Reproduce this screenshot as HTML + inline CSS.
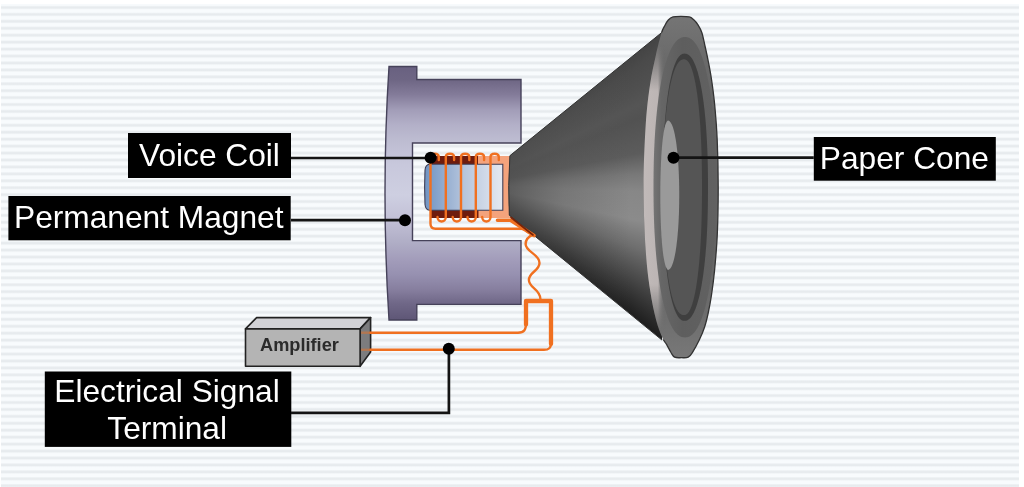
<!DOCTYPE html>
<html><head><meta charset="utf-8">
<style>
html,body{margin:0;padding:0;background:#fff;width:1024px;height:487px;overflow:hidden}
.bg{position:absolute;left:1px;top:4px;width:1018px;height:483px;
background:repeating-linear-gradient(to bottom,#f8fbfd 0px,#f8fbfd 1.3px,#e7ebee 2.8px,#e7ebee 4.1px,#f8fbfd 5.6px,#f8fbfd 6.93px);
background-position:0 0.1px}
svg{position:absolute;left:0;top:0}
text{font-family:"Liberation Sans",sans-serif}
#wrap{position:absolute;left:0;top:0;width:1024px;height:487px;filter:blur(0.6px)}
</style></head><body><div id="wrap">
<div class="bg"></div>
<svg width="1024" height="487" viewBox="0 0 1024 487">
<defs>
<linearGradient id="mag" x1="0" y1="66" x2="0" y2="320" gradientUnits="userSpaceOnUse">
<stop offset="0.000" stop-color="#686080"/>
<stop offset="0.055" stop-color="#6e6684"/>
<stop offset="0.114" stop-color="#847c9a"/>
<stop offset="0.173" stop-color="#a29db8"/>
<stop offset="0.232" stop-color="#b3b0c8"/>
<stop offset="0.291" stop-color="#bdbcd1"/>
<stop offset="0.390" stop-color="#c8c8dc"/>
<stop offset="0.508" stop-color="#cecfe1"/>
<stop offset="0.606" stop-color="#c2c0d6"/>
<stop offset="0.693" stop-color="#b0aec6"/>
<stop offset="0.764" stop-color="#a29cba"/>
<stop offset="0.823" stop-color="#9690b0"/>
<stop offset="0.882" stop-color="#867e9e"/>
<stop offset="0.933" stop-color="#706888"/>
<stop offset="1.000" stop-color="#5e5676"/>
</linearGradient>
<linearGradient id="cone" x1="0" y1="30" x2="0" y2="345" gradientUnits="userSpaceOnUse">
<stop offset="0.000" stop-color="#484848"/>
<stop offset="0.222" stop-color="#4c4c4c"/>
<stop offset="0.381" stop-color="#575757"/>
<stop offset="0.413" stop-color="#646464"/>
<stop offset="0.451" stop-color="#7a7a7a"/>
<stop offset="0.495" stop-color="#898989"/>
<stop offset="0.571" stop-color="#8e8e8e"/>
<stop offset="0.610" stop-color="#7c7c7c"/>
<stop offset="0.683" stop-color="#626262"/>
<stop offset="0.746" stop-color="#4a4a4a"/>
<stop offset="0.857" stop-color="#2a2a2a"/>
<stop offset="1.000" stop-color="#181818"/>
</linearGradient>
<linearGradient id="apex" x1="508" y1="0" x2="630" y2="0" gradientUnits="userSpaceOnUse">
<stop offset="0" stop-color="#505050" stop-opacity="0.8"/>
<stop offset="0.45" stop-color="#555" stop-opacity="0.35"/>
<stop offset="1" stop-color="#555" stop-opacity="0"/>
</linearGradient>
<linearGradient id="surr" x1="0" y1="16" x2="0" y2="358" gradientUnits="userSpaceOnUse">
<stop offset="0" stop-color="#757575"/>
<stop offset="0.13" stop-color="#6a6a6a"/>
<stop offset="0.33" stop-color="#626262"/>
<stop offset="0.65" stop-color="#626262"/>
<stop offset="0.89" stop-color="#6e6e6e"/>
<stop offset="1" stop-color="#787878"/>
</linearGradient>
<linearGradient id="pole" x1="424" y1="0" x2="502" y2="0" gradientUnits="userSpaceOnUse">
<stop offset="0" stop-color="#6f93c2"/>
<stop offset="0.5" stop-color="#b4c4dc"/>
<stop offset="1" stop-color="#e4e8f0"/>
</linearGradient>
<linearGradient id="hl" x1="640" y1="0" x2="700" y2="0" gradientUnits="userSpaceOnUse">
<stop offset="0" stop-color="#c2bbba"/>
<stop offset="0.3" stop-color="#bcb5b4"/>
<stop offset="0.42" stop-color="#747474" stop-opacity="0"/>
<stop offset="1" stop-color="#747474" stop-opacity="0"/>
</linearGradient>
<linearGradient id="hlm" x1="0" y1="45" x2="0" y2="330" gradientUnits="userSpaceOnUse">
<stop offset="0" stop-color="#fff" stop-opacity="0"/>
<stop offset="0.09" stop-color="#fff" stop-opacity="0.55"/>
<stop offset="0.16" stop-color="#fff" stop-opacity="1"/>
<stop offset="0.84" stop-color="#fff" stop-opacity="1"/>
<stop offset="0.91" stop-color="#fff" stop-opacity="0.55"/>
<stop offset="1" stop-color="#fff" stop-opacity="0"/>
</linearGradient>
<mask id="hlmask" maskUnits="userSpaceOnUse" x="0" y="0" width="1024" height="487"><rect x="0" y="0" width="1024" height="487" fill="url(#hlm)"/></mask>
<linearGradient id="midg" x1="650" y1="0" x2="715" y2="0" gradientUnits="userSpaceOnUse">
<stop offset="0" stop-color="#7a7a7a"/>
<stop offset="0.18" stop-color="#666"/>
<stop offset="0.5" stop-color="#5e5e5e"/>
<stop offset="1" stop-color="#616161"/>
</linearGradient>
<clipPath id="rimclip"><path d="M0,0 H1024 V487 H0 V339.5 H690 V32.5 H0 Z"/></clipPath>
</defs>

<!-- black labels -->
<rect x="128" y="133" width="163" height="45" fill="#000"/>
<text x="139" y="166" font-size="31.7" fill="#fff">Voice Coil</text>
<rect x="8.4" y="196" width="282.3" height="44.3" fill="#000"/>
<text x="14" y="228.4" font-size="31.7" fill="#fff">Permanent Magnet</text>
<rect x="813.8" y="137" width="182" height="43.7" fill="#000"/>
<text x="819.8" y="169.3" font-size="31.7" fill="#fff">Paper Cone</text>
<rect x="44.8" y="371.5" width="246.5" height="75.4" fill="#000"/>
<text x="54.3" y="401.6" font-size="31.7" fill="#fff">Electrical Signal</text>
<text x="107.3" y="438.5" font-size="31.7" fill="#fff">Terminal</text>

<!-- magnet -->
<path d="M389,66.5 L416.8,66.5 L416.8,79.5 L521,79.5 L521,143 L412.5,143 L412.5,240.6 L521,240.6 L521,304.4 L416.8,304.4 L416.8,320 L389,320 Q381,193 389,66.5 Z" fill="url(#mag)" stroke="#46425a" stroke-width="1.4"/>

<!-- amplifier -->
<g stroke="#222" stroke-width="1.6" stroke-linejoin="round">
<path d="M245.5,328.9 L256.6,317.6 L370.6,317.6 L360.1,328.9Z" fill="#d2d2d6"/>
<path d="M360.1,328.9 L370.6,317.6 L370.6,352 L360.1,366.3Z" fill="#7c7c7e"/>
<rect x="245.5" y="328.9" width="114.6" height="37.4" fill="#b4b4b4"/>
</g>
<text x="260" y="350.5" font-size="18.2" font-weight="bold" fill="#2b2b2b">Amplifier</text>

<!-- pole piece / former -->
<path d="M476,156 L512,156 L512,218 L476,218Z" fill="#f4a37c"/>
<rect x="431" y="156" width="47" height="8.5" fill="#6e1c0e"/>
<rect x="430.5" y="210" width="48" height="8" fill="#6e1c0e"/>
<path d="M429.5,164.3 L502.8,164.3 L502.8,210.2 L429.5,210.2 Q425.6,210 425,204.5 Q424.2,187.2 425,170 Q425.6,164.5 429.5,164.3Z" fill="url(#pole)" stroke="#3e3e56" stroke-width="1.1"/>
<!-- coil -->
<g fill="none" stroke="#f07020" stroke-width="2.4" stroke-linecap="round">
<path d="M438.8,160 L438.8,157 C438.8,152.6 430.5,152.6 430.5,157 L430.5,217 L430.5,223.8 C430.5,227 432.5,228.8 435.5,228.8 L520,228.8 C523,228.8 525,228 528,232"/>
<path d="M454.1,160 L454.1,157 C454.1,152.6 445.8,152.6 445.8,157 L445.8,217 C445.8,223 437.5,223 437.5,217"/>
<path d="M469.3,160 L469.3,157 C469.3,152.6 461.0,152.6 461.0,157 L461.0,217 C461.0,223 452.7,223 452.7,217"/>
<path d="M484.1,160 L484.1,157 C484.1,152.6 475.8,152.6 475.8,157 L475.8,217 C475.8,223 467.5,223 467.5,217"/>
<path d="M498.8,160 L498.8,157 C498.8,152.6 490.5,152.6 490.5,157 L490.5,217 C490.5,223 482.2,223 482.2,217"/>
<path d="M533.4,234.6 C527,237 525.6,240 525.6,244 C525.6,252 539.5,254 539.5,263 C539.5,271 528.9,272 528.9,280 C528.9,288 540.4,289 540.4,299"/>
<path d="M526,324.5 L526,301 L551,301 L551,344" stroke-width="4.3" stroke-linejoin="round"/>
<path d="M526,323 C526,330 524,332.7 518,332.7 L370.5,332.7" stroke-width="2.4"/>
<path d="M370.5,332.7 L361,332.7" stroke-width="2.4" stroke-opacity="0.45" stroke-linecap="butt"/>
<path d="M551,343 C551,348 549,349.8 544,349.8 L370.5,349.8" stroke-width="2.4"/>
<path d="M370.5,349.8 L361,349.8" stroke-width="2.4" stroke-opacity="0.45" stroke-linecap="butt"/>
</g>
</svg>
<div class="cone" style="position:absolute;left:0;top:0;width:1024px;height:487px;background:conic-gradient(from 0deg at 473.1px 185.5px, #444 50.96deg, #4a4a4a 54.00deg, #505050 60.00deg, #555 64.00deg, #525252 68.00deg, #5c5c5c 79.00deg, #787878 86.00deg, #878787 92.00deg, #8b8b8b 102.00deg, #6e6e6e 111.00deg, #484848 120.00deg, #282828 127.00deg, #1e1e1e 129.30deg);clip-path:path('M509.9,155.7 L662,32.3 L662,340.1 L509.3,215.2 Q507.8,185.5 509.9,155.7Z')"></div>
<svg width="1024" height="487" viewBox="0 0 1024 487">
<path d="M509.9,155.7 L662,32.3 L662,340.1 L509.3,215.2 Q507.8,185.5 509.9,155.7Z" fill="url(#apex)"/>
<path d="M662,32.3 L509.9,155.7 Q507.8,185.5 509.3,215.2 L662,340.1" fill="none" stroke="#333" stroke-width="1"/>
<path d="M497.5,220.3 L510.5,220.3 L534,235.5" fill="none" stroke="#f07020" stroke-width="3.6" stroke-linejoin="round" stroke-linecap="round"/>
<path d="M511,217.5 L533,235" fill="none" stroke="#7a2408" stroke-width="1.6" stroke-linecap="round"/>
<!-- rim -->
<path d="M643.50,187.20 C643.50,166.37 644.62,142.03 645.70,125.00 C646.78,107.97 648.30,96.67 650.00,85.00 C651.70,73.33 654.02,63.58 655.90,55.00 C657.78,46.42 659.85,38.33 661.30,33.50 C662.75,28.67 663.43,28.25 664.60,26.00 C665.77,23.75 666.90,21.52 668.30,20.00 C669.70,18.48 670.88,17.52 673.00,16.90 C675.12,16.28 678.28,16.30 681.00,16.30 C683.72,16.30 687.22,16.37 689.30,16.90 C691.38,17.43 692.05,18.18 693.50,19.50 C694.95,20.82 696.62,22.63 698.00,24.80 C699.38,26.97 700.63,28.97 701.80,32.50 C702.97,36.03 703.90,41.08 705.00,46.00 C706.10,50.92 707.30,56.33 708.40,62.00 C709.50,67.67 710.55,72.83 711.60,80.00 C712.65,87.17 713.77,95.00 714.70,105.00 C715.63,115.00 716.62,126.30 717.20,140.00 C717.78,153.70 718.18,171.53 718.20,187.20 C718.22,202.87 717.90,220.20 717.30,234.00 C716.70,247.80 715.57,259.83 714.60,270.00 C713.63,280.17 712.57,287.83 711.50,295.00 C710.43,302.17 709.35,307.67 708.20,313.00 C707.05,318.33 706.05,322.58 704.60,327.00 C703.15,331.42 701.52,335.28 699.50,339.50 C697.48,343.72 694.38,349.35 692.50,352.30 C690.62,355.25 690.03,356.30 688.20,357.20 C686.37,358.10 683.77,357.70 681.50,357.70 C679.23,357.70 676.35,358.07 674.60,357.20 C672.85,356.33 672.37,354.67 671.00,352.50 C669.63,350.33 667.85,346.68 666.40,344.20 C664.95,341.72 664.02,341.63 662.30,337.60 C660.58,333.57 658.13,327.93 656.10,320.00 C654.07,312.07 651.83,301.67 650.10,290.00 C648.37,278.33 646.80,267.13 645.70,250.00 C644.60,232.87 643.50,208.03 643.50,187.20Z" fill="url(#surr)"/>
<path d="M643.50,187.20 C643.50,166.37 644.62,142.03 645.70,125.00 C646.78,107.97 648.30,96.67 650.00,85.00 C651.70,73.33 654.02,63.58 655.90,55.00 C657.78,46.42 659.85,38.33 661.30,33.50 C662.75,28.67 663.43,28.25 664.60,26.00 C665.77,23.75 666.90,21.52 668.30,20.00 C669.70,18.48 670.88,17.52 673.00,16.90 C675.12,16.28 678.28,16.30 681.00,16.30 C683.72,16.30 687.22,16.37 689.30,16.90 C691.38,17.43 692.05,18.18 693.50,19.50 C694.95,20.82 696.62,22.63 698.00,24.80 C699.38,26.97 700.63,28.97 701.80,32.50 C702.97,36.03 703.90,41.08 705.00,46.00 C706.10,50.92 707.30,56.33 708.40,62.00 C709.50,67.67 710.55,72.83 711.60,80.00 C712.65,87.17 713.77,95.00 714.70,105.00 C715.63,115.00 716.62,126.30 717.20,140.00 C717.78,153.70 718.18,171.53 718.20,187.20 C718.22,202.87 717.90,220.20 717.30,234.00 C716.70,247.80 715.57,259.83 714.60,270.00 C713.63,280.17 712.57,287.83 711.50,295.00 C710.43,302.17 709.35,307.67 708.20,313.00 C707.05,318.33 706.05,322.58 704.60,327.00 C703.15,331.42 701.52,335.28 699.50,339.50 C697.48,343.72 694.38,349.35 692.50,352.30 C690.62,355.25 690.03,356.30 688.20,357.20 C686.37,358.10 683.77,357.70 681.50,357.70 C679.23,357.70 676.35,358.07 674.60,357.20 C672.85,356.33 672.37,354.67 671.00,352.50 C669.63,350.33 667.85,346.68 666.40,344.20 C664.95,341.72 664.02,341.63 662.30,337.60 C660.58,333.57 658.13,327.93 656.10,320.00 C654.07,312.07 651.83,301.67 650.10,290.00 C648.37,278.33 646.80,267.13 645.70,250.00 C644.60,232.87 643.50,208.03 643.50,187.20Z" fill="url(#hl)" mask="url(#hlmask)"/>
<path d="M643.50,187.20 C643.50,166.37 644.62,142.03 645.70,125.00 C646.78,107.97 648.30,96.67 650.00,85.00 C651.70,73.33 654.02,63.58 655.90,55.00 C657.78,46.42 659.85,38.33 661.30,33.50 C662.75,28.67 663.43,28.25 664.60,26.00 C665.77,23.75 666.90,21.52 668.30,20.00 C669.70,18.48 670.88,17.52 673.00,16.90 C675.12,16.28 678.28,16.30 681.00,16.30 C683.72,16.30 687.22,16.37 689.30,16.90 C691.38,17.43 692.05,18.18 693.50,19.50 C694.95,20.82 696.62,22.63 698.00,24.80 C699.38,26.97 700.63,28.97 701.80,32.50 C702.97,36.03 703.90,41.08 705.00,46.00 C706.10,50.92 707.30,56.33 708.40,62.00 C709.50,67.67 710.55,72.83 711.60,80.00 C712.65,87.17 713.77,95.00 714.70,105.00 C715.63,115.00 716.62,126.30 717.20,140.00 C717.78,153.70 718.18,171.53 718.20,187.20 C718.22,202.87 717.90,220.20 717.30,234.00 C716.70,247.80 715.57,259.83 714.60,270.00 C713.63,280.17 712.57,287.83 711.50,295.00 C710.43,302.17 709.35,307.67 708.20,313.00 C707.05,318.33 706.05,322.58 704.60,327.00 C703.15,331.42 701.52,335.28 699.50,339.50 C697.48,343.72 694.38,349.35 692.50,352.30 C690.62,355.25 690.03,356.30 688.20,357.20 C686.37,358.10 683.77,357.70 681.50,357.70 C679.23,357.70 676.35,358.07 674.60,357.20 C672.85,356.33 672.37,354.67 671.00,352.50 C669.63,350.33 667.85,346.68 666.40,344.20 C664.95,341.72 664.02,341.63 662.30,337.60 C660.58,333.57 658.13,327.93 656.10,320.00 C654.07,312.07 651.83,301.67 650.10,290.00 C648.37,278.33 646.80,267.13 645.70,250.00 C644.60,232.87 643.50,208.03 643.50,187.20Z" fill="none" stroke="#333" stroke-width="1.3" clip-path="url(#rimclip)"/>
<path d="M716.00,187.20 L715.99,192.68 L715.96,197.48 L715.91,202.05 L715.85,206.48 L715.76,210.79 L715.65,215.01 L715.53,219.15 L715.38,223.22 L715.22,227.22 L715.04,231.16 L714.84,235.03 L714.62,238.84 L714.38,242.60 L714.12,246.29 L713.85,249.92 L713.55,253.50 L713.24,257.01 L712.91,260.46 L712.57,263.86 L712.20,267.18 L711.82,270.45 L711.42,273.65 L711.00,276.79 L710.57,279.85 L710.12,282.86 L709.65,285.79 L709.17,288.65 L708.67,291.44 L708.15,294.16 L707.62,296.81 L707.08,299.38 L706.51,301.87 L705.94,304.29 L705.35,306.63 L704.74,308.90 L704.12,311.08 L703.49,313.18 L702.84,315.20 L702.18,317.14 L701.51,318.99 L700.82,320.76 L700.12,322.44 L699.41,324.04 L698.68,325.55 L697.95,326.97 L697.20,328.30 L696.43,329.55 L695.66,330.70 L694.87,331.77 L694.07,332.74 L693.26,333.62 L692.43,334.41 L691.59,335.11 L690.74,335.72 L689.87,336.23 L688.98,336.65 L688.07,336.98 L687.12,337.21 L686.13,337.35 L685.00,337.40 L683.85,337.35 L682.84,337.21 L681.89,336.98 L680.96,336.65 L680.05,336.23 L679.17,335.72 L678.30,335.11 L677.45,334.41 L676.61,333.62 L675.78,332.74 L674.97,331.77 L674.17,330.70 L673.38,329.55 L672.61,328.30 L671.85,326.97 L671.10,325.55 L670.36,324.04 L669.63,322.44 L668.92,320.76 L668.23,318.99 L667.54,317.14 L666.87,315.20 L666.21,313.18 L665.57,311.08 L664.94,308.90 L664.32,306.63 L663.72,304.29 L663.14,301.87 L662.57,299.38 L662.01,296.81 L661.47,294.16 L660.95,291.44 L660.44,288.65 L659.95,285.79 L659.48,282.86 L659.02,279.85 L658.58,276.79 L658.16,273.65 L657.75,270.45 L657.36,267.18 L656.99,263.86 L656.64,260.46 L656.30,257.01 L655.99,253.50 L655.69,249.92 L655.41,246.29 L655.15,242.60 L654.90,238.84 L654.68,235.03 L654.48,231.16 L654.29,227.22 L654.13,223.22 L653.98,219.15 L653.85,215.01 L653.75,210.79 L653.66,206.48 L653.59,202.05 L653.54,197.48 L653.51,192.68 L653.50,187.20 L653.51,181.72 L653.54,176.92 L653.59,172.35 L653.66,167.92 L653.75,163.61 L653.85,159.39 L653.98,155.25 L654.13,151.18 L654.29,147.18 L654.48,143.24 L654.68,139.37 L654.90,135.56 L655.15,131.80 L655.41,128.11 L655.69,124.48 L655.99,120.90 L656.30,117.39 L656.64,113.94 L656.99,110.54 L657.36,107.22 L657.75,103.95 L658.16,100.75 L658.58,97.61 L659.02,94.55 L659.48,91.54 L659.95,88.61 L660.44,85.75 L660.95,82.96 L661.47,80.24 L662.01,77.59 L662.57,75.02 L663.14,72.53 L663.72,70.11 L664.32,67.77 L664.94,65.50 L665.57,63.32 L666.21,61.22 L666.87,59.20 L667.54,57.26 L668.23,55.41 L668.92,53.64 L669.63,51.96 L670.36,50.36 L671.10,48.85 L671.85,47.43 L672.61,46.10 L673.38,44.85 L674.17,43.70 L674.97,42.63 L675.78,41.66 L676.61,40.78 L677.45,39.99 L678.30,39.29 L679.17,38.68 L680.05,38.17 L680.96,37.75 L681.89,37.42 L682.84,37.19 L683.85,37.05 L685.00,37.00 L686.13,37.05 L687.12,37.19 L688.07,37.42 L688.98,37.75 L689.87,38.17 L690.74,38.68 L691.59,39.29 L692.43,39.99 L693.26,40.78 L694.07,41.66 L694.87,42.63 L695.66,43.70 L696.43,44.85 L697.20,46.10 L697.95,47.43 L698.68,48.85 L699.41,50.36 L700.12,51.96 L700.82,53.64 L701.51,55.41 L702.18,57.26 L702.84,59.20 L703.49,61.22 L704.12,63.32 L704.74,65.50 L705.35,67.77 L705.94,70.11 L706.51,72.53 L707.08,75.02 L707.62,77.59 L708.15,80.24 L708.67,82.96 L709.17,85.75 L709.65,88.61 L710.12,91.54 L710.57,94.55 L711.00,97.61 L711.42,100.75 L711.82,103.95 L712.20,107.22 L712.57,110.54 L712.91,113.94 L713.24,117.39 L713.55,120.90 L713.85,124.48 L714.12,128.11 L714.38,131.80 L714.62,135.56 L714.84,139.37 L715.04,143.24 L715.22,147.18 L715.38,151.18 L715.53,155.25 L715.65,159.39 L715.76,163.61 L715.85,167.92 L715.91,172.35 L715.96,176.92 L715.99,181.72Z" fill="url(#midg)"/>
<path d="M708.00,187.20 L707.99,192.07 L707.97,196.34 L707.93,200.41 L707.88,204.35 L707.82,208.18 L707.74,211.94 L707.64,215.62 L707.53,219.24 L707.41,222.80 L707.27,226.30 L707.12,229.74 L706.95,233.14 L706.77,236.47 L706.58,239.76 L706.37,242.99 L706.15,246.17 L705.91,249.30 L705.66,252.37 L705.40,255.38 L705.12,258.34 L704.83,261.25 L704.53,264.10 L704.21,266.89 L703.88,269.61 L703.54,272.28 L703.19,274.89 L702.82,277.44 L702.44,279.92 L702.05,282.34 L701.65,284.69 L701.23,286.98 L700.81,289.20 L700.37,291.35 L699.92,293.43 L699.47,295.45 L699.00,297.39 L698.52,299.26 L698.03,301.05 L697.53,302.78 L697.01,304.42 L696.49,306.00 L695.96,307.49 L695.42,308.91 L694.87,310.26 L694.31,311.52 L693.75,312.71 L693.17,313.81 L692.58,314.84 L691.98,315.79 L691.38,316.66 L690.76,317.44 L690.14,318.14 L689.50,318.76 L688.85,319.30 L688.19,319.76 L687.52,320.13 L686.82,320.43 L686.11,320.63 L685.36,320.76 L684.50,320.80 L683.71,320.76 L683.01,320.63 L682.34,320.43 L681.70,320.13 L681.08,319.76 L680.46,319.30 L679.86,318.76 L679.27,318.14 L678.69,317.44 L678.12,316.66 L677.56,315.79 L677.00,314.84 L676.46,313.81 L675.92,312.71 L675.40,311.52 L674.88,310.26 L674.37,308.91 L673.87,307.49 L673.37,306.00 L672.89,304.42 L672.42,302.78 L671.95,301.05 L671.50,299.26 L671.05,297.39 L670.62,295.45 L670.19,293.43 L669.78,291.35 L669.37,289.20 L668.98,286.98 L668.59,284.69 L668.22,282.34 L667.86,279.92 L667.51,277.44 L667.17,274.89 L666.84,272.28 L666.52,269.61 L666.22,266.89 L665.92,264.10 L665.64,261.25 L665.37,258.34 L665.12,255.38 L664.87,252.37 L664.64,249.30 L664.42,246.17 L664.21,242.99 L664.02,239.76 L663.84,236.47 L663.67,233.14 L663.52,229.74 L663.38,226.30 L663.25,222.80 L663.13,219.24 L663.03,215.62 L662.94,211.94 L662.87,208.18 L662.81,204.35 L662.76,200.41 L662.73,196.34 L662.71,192.07 L662.70,187.20 L662.71,182.33 L662.73,178.06 L662.76,173.99 L662.81,170.05 L662.87,166.22 L662.94,162.46 L663.03,158.78 L663.13,155.16 L663.25,151.60 L663.38,148.10 L663.52,144.66 L663.67,141.26 L663.84,137.93 L664.02,134.64 L664.21,131.41 L664.42,128.23 L664.64,125.10 L664.87,122.03 L665.12,119.02 L665.37,116.06 L665.64,113.15 L665.92,110.30 L666.22,107.51 L666.52,104.79 L666.84,102.12 L667.17,99.51 L667.51,96.96 L667.86,94.48 L668.22,92.06 L668.59,89.71 L668.98,87.42 L669.37,85.20 L669.78,83.05 L670.19,80.97 L670.62,78.95 L671.05,77.01 L671.50,75.14 L671.95,73.35 L672.42,71.62 L672.89,69.98 L673.37,68.40 L673.87,66.91 L674.37,65.49 L674.88,64.14 L675.40,62.88 L675.92,61.69 L676.46,60.59 L677.00,59.56 L677.56,58.61 L678.12,57.74 L678.69,56.96 L679.27,56.26 L679.86,55.64 L680.46,55.10 L681.08,54.64 L681.70,54.27 L682.34,53.97 L683.01,53.77 L683.71,53.64 L684.50,53.60 L685.36,53.64 L686.11,53.77 L686.82,53.97 L687.52,54.27 L688.19,54.64 L688.85,55.10 L689.50,55.64 L690.14,56.26 L690.76,56.96 L691.38,57.74 L691.98,58.61 L692.58,59.56 L693.17,60.59 L693.75,61.69 L694.31,62.88 L694.87,64.14 L695.42,65.49 L695.96,66.91 L696.49,68.40 L697.01,69.98 L697.53,71.62 L698.03,73.35 L698.52,75.14 L699.00,77.01 L699.47,78.95 L699.92,80.97 L700.37,83.05 L700.81,85.20 L701.23,87.42 L701.65,89.71 L702.05,92.06 L702.44,94.48 L702.82,96.96 L703.19,99.51 L703.54,102.12 L703.88,104.79 L704.21,107.51 L704.53,110.30 L704.83,113.15 L705.12,116.06 L705.40,119.02 L705.66,122.03 L705.91,125.10 L706.15,128.23 L706.37,131.41 L706.58,134.64 L706.77,137.93 L706.95,141.26 L707.12,144.66 L707.27,148.10 L707.41,151.60 L707.53,155.16 L707.64,158.78 L707.74,162.46 L707.82,166.22 L707.88,170.05 L707.93,173.99 L707.97,178.06 L707.99,182.33Z" fill="#3f3f3f"/>
<path d="M702.00,187.20 L701.99,191.86 L701.98,195.95 L701.95,199.85 L701.91,203.62 L701.86,207.29 L701.80,210.88 L701.73,214.41 L701.64,217.87 L701.55,221.28 L701.44,224.63 L701.32,227.93 L701.20,231.18 L701.06,234.37 L700.91,237.52 L700.75,240.61 L700.58,243.65 L700.40,246.65 L700.21,249.59 L700.01,252.47 L699.79,255.31 L699.57,258.09 L699.34,260.82 L699.10,263.49 L698.85,266.10 L698.58,268.65 L698.31,271.15 L698.03,273.59 L697.74,275.97 L697.44,278.28 L697.14,280.53 L696.82,282.72 L696.49,284.85 L696.16,286.91 L695.81,288.90 L695.46,290.83 L695.10,292.69 L694.74,294.48 L694.36,296.20 L693.98,297.84 L693.59,299.42 L693.19,300.93 L692.78,302.36 L692.37,303.72 L691.95,305.01 L691.52,306.22 L691.08,307.35 L690.64,308.41 L690.19,309.40 L689.73,310.30 L689.27,311.13 L688.80,311.88 L688.32,312.56 L687.83,313.15 L687.33,313.67 L686.83,314.10 L686.31,314.46 L685.78,314.74 L685.23,314.94 L684.66,315.06 L684.00,315.10 L683.23,315.06 L682.56,314.94 L681.92,314.74 L681.30,314.46 L680.70,314.10 L680.11,313.67 L679.53,313.15 L678.96,312.56 L678.40,311.88 L677.85,311.13 L677.31,310.30 L676.78,309.40 L676.25,308.41 L675.74,307.35 L675.23,306.22 L674.73,305.01 L674.24,303.72 L673.76,302.36 L673.28,300.93 L672.82,299.42 L672.36,297.84 L671.91,296.20 L671.47,294.48 L671.05,292.69 L670.63,290.83 L670.22,288.90 L669.82,286.91 L669.43,284.85 L669.05,282.72 L668.68,280.53 L668.32,278.28 L667.97,275.97 L667.63,273.59 L667.30,271.15 L666.99,268.65 L666.68,266.10 L666.39,263.49 L666.10,260.82 L665.83,258.09 L665.57,255.31 L665.33,252.47 L665.09,249.59 L664.87,246.65 L664.66,243.65 L664.46,240.61 L664.27,237.52 L664.10,234.37 L663.94,231.18 L663.79,227.93 L663.65,224.63 L663.53,221.28 L663.42,217.87 L663.32,214.41 L663.24,210.88 L663.16,207.29 L663.10,203.62 L663.06,199.85 L663.03,195.95 L663.01,191.86 L663.00,187.20 L663.01,182.54 L663.03,178.45 L663.06,174.55 L663.10,170.78 L663.16,167.11 L663.24,163.52 L663.32,159.99 L663.42,156.53 L663.53,153.12 L663.65,149.77 L663.79,146.47 L663.94,143.22 L664.10,140.03 L664.27,136.88 L664.46,133.79 L664.66,130.75 L664.87,127.75 L665.09,124.81 L665.33,121.93 L665.57,119.09 L665.83,116.31 L666.10,113.58 L666.39,110.91 L666.68,108.30 L666.99,105.75 L667.30,103.25 L667.63,100.81 L667.97,98.43 L668.32,96.12 L668.68,93.87 L669.05,91.68 L669.43,89.55 L669.82,87.49 L670.22,85.50 L670.63,83.57 L671.05,81.71 L671.47,79.92 L671.91,78.20 L672.36,76.56 L672.82,74.98 L673.28,73.47 L673.76,72.04 L674.24,70.68 L674.73,69.39 L675.23,68.18 L675.74,67.05 L676.25,65.99 L676.78,65.00 L677.31,64.10 L677.85,63.27 L678.40,62.52 L678.96,61.84 L679.53,61.25 L680.11,60.73 L680.70,60.30 L681.30,59.94 L681.92,59.66 L682.56,59.46 L683.23,59.34 L684.00,59.30 L684.66,59.34 L685.23,59.46 L685.78,59.66 L686.31,59.94 L686.83,60.30 L687.33,60.73 L687.83,61.25 L688.32,61.84 L688.80,62.52 L689.27,63.27 L689.73,64.10 L690.19,65.00 L690.64,65.99 L691.08,67.05 L691.52,68.18 L691.95,69.39 L692.37,70.68 L692.78,72.04 L693.19,73.47 L693.59,74.98 L693.98,76.56 L694.36,78.20 L694.74,79.92 L695.10,81.71 L695.46,83.57 L695.81,85.50 L696.16,87.49 L696.49,89.55 L696.82,91.68 L697.14,93.87 L697.44,96.12 L697.74,98.43 L698.03,100.81 L698.31,103.25 L698.58,105.75 L698.85,108.30 L699.10,110.91 L699.34,113.58 L699.57,116.31 L699.79,119.09 L700.01,121.93 L700.21,124.81 L700.40,127.75 L700.58,130.75 L700.75,133.79 L700.91,136.88 L701.06,140.03 L701.20,143.22 L701.32,146.47 L701.44,149.77 L701.55,153.12 L701.64,156.53 L701.73,159.99 L701.80,163.52 L701.86,167.11 L701.91,170.78 L701.95,174.55 L701.98,178.45 L701.99,182.54Z" fill="#555"/>
<path d="M668,120.5 C683,122 683,268 668,270 C662.5,267 660.3,230 660.3,195 C660.3,160 662.5,123 668,120.5Z" fill="#9a9a9a"/>

<!-- leader lines -->
<g stroke="#141414" stroke-width="2.7" fill="none">
<path d="M291,158 L430.5,158"/>
<path d="M291,220.2 L405,220.2"/>
<path d="M673.5,157.7 L813.8,157.7"/>
<path d="M291,412.8 L448.9,412.8 L448.9,349"/>
</g>
<g fill="#000">
<circle cx="430.6" cy="157.8" r="6"/>
<circle cx="405" cy="220.2" r="6"/>
<circle cx="673.5" cy="157.7" r="6"/>
<circle cx="448.8" cy="348.7" r="6"/>
</g>
</svg>
</div></body></html>
